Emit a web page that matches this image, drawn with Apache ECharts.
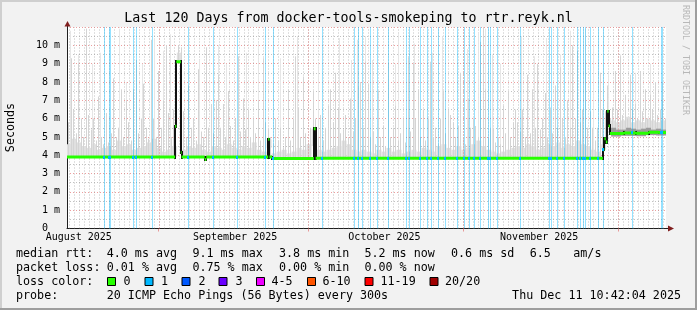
<!DOCTYPE html>
<html><head><meta charset="utf-8">
<script src="https://cdn.jsdelivr.net/npm/echarts@6/dist/echarts.min.js"></script>
<style>html,body{margin:0;padding:0;background:#f2f2f2}#c{width:697px;height:310px}</style>
</head><body><div id="c"></div>
<script>
// ---------- data ----------
const titleText = 'Last 120 Days from docker-tools-smokeping to rtr.reyk.nl';
const monthLabels = ['August 2025', 'September 2025', 'October 2025', 'November 2025'];
const monthLabelDays = [2.36, 33.67, 63.6, 94.6];           // days since chart start
const majorGridDays = [18.36, 48.36, 79.36, 110.36];
const minorGridFirst = 0.36;                                 // daily grid phase
const yMax = 11;

// median rtt (ms) as step line: value holds from day until next day
const medianDays = [0, 21.65, 21.9, 22.8, 22.95, 27.6, 27.9, 40.3, 40.55, 41.1, 49.45, 49.8,
  107.35, 107.65, 107.95, 108.25, 108.5, 108.75, 111.5, 114, 116.5, 118.5, 120];
const medianVals = [3.90, 5.58, 9.10, 4.15, 3.90, 3.76, 3.90, 4.87, 3.90, 3.82, 5.45, 3.83,
  4.30, 4.90, 4.72, 6.40, 5.60, 5.18, 5.22, 5.20, 5.26, 5.24, 5.24];

// smoke: highest visible ping per half day (ms)
const smokeStep = 0.5;
const smokeMax = [
  5.8, 9.3, 6.5, 5.2, 9.0, 6.0, 5.0, 10.9, 6.2, 5.4,
  6.0, 4.8, 7.2, 5.0, 4.6, 6.3, 4.7, 5.2, 8.2, 5.0,
  5.5, 7.6, 5.0, 7.0, 5.8, 4.8, 7.6, 9.2, 5.2, 6.0,
  7.9, 5.5, 4.9, 10.3, 6.0, 5.0, 8.6, 5.5, 7.0, 10.0,
  6.3, 5.0, 6.5, 5.8, 10.0, 9.9, 6.4, 5.0, 7.8, 5.5,
  6.0, 4.8, 8.7, 5.3, 5.0, 9.9, 5.5, 6.8, 5.2, 7.0,
  8.4, 5.5, 6.8, 5.0, 7.5, 5.6, 4.8, 6.0, 9.4, 5.3,
  7.1, 5.4, 6.5, 5.0, 6.0, 5.2, 7.0, 4.8, 9.3, 5.8,
  5.5, 5.0, 4.6, 6.0, 4.8, 5.5, 4.4, 5.0, 7.6, 4.8,
  6.0, 9.4, 6.6, 5.0, 8.3, 5.2, 4.7, 5.5, 7.5, 6.0,
  5.0, 6.2, 4.8, 5.5, 6.7, 7.6, 5.8, 8.5, 6.6, 5.2,
  5.4, 6.2, 5.0, 7.1, 5.3, 6.0, 7.8, 8.0, 5.5, 9.1,
  7.9, 5.0, 5.3, 4.6, 7.5, 5.0, 5.6, 4.5, 9.0, 5.0,
  5.5, 6.7, 4.8, 5.2, 6.0, 4.7, 9.4, 5.3, 9.0, 6.0,
  7.6, 5.0, 6.5, 4.8, 6.0, 9.1, 5.0, 5.5, 4.6, 6.0,
  7.5, 5.2, 6.5, 6.2, 5.8, 5.0, 5.6, 8.5, 5.0, 4.6,
  7.1, 5.5, 6.0, 5.6, 5.0, 10.2, 11.0, 7.6, 5.0, 5.5,
  5.5, 4.7, 5.0, 4.6, 6.7, 5.2, 7.5, 5.0, 5.8, 6.5,
  5.8, 5.3, 6.5, 5.0, 8.4, 5.2, 7.6, 5.5, 9.0, 5.4,
  6.0, 7.4, 5.0, 6.6, 5.2, 7.8, 5.5, 8.8, 6.0, 5.0,
  7.0, 5.5, 10.0, 6.0, 9.7, 5.8, 6.5, 9.2, 5.5, 6.4,
  5.5, 4.8, 5.5, 8.5, 6.5, 6.4, 7.8, 6.0, 6.6, 8.6,
  6.5, 9.4, 6.2, 7.3, 6.0, 8.4, 6.5, 6.8, 6.0, 8.6,
  6.4, 7.6, 6.0, 7.3, 6.5, 8.0, 6.2, 6.5, 7.0, 6.0
];
// dense smoke body per day (ms)
const bodyMax = [
  4.6, 4.9, 4.7, 4.5, 4.4, 4.6, 4.3, 4.4, 4.5, 4.3,
  4.8, 4.5, 4.6, 4.3, 4.4, 4.5, 4.7, 4.9, 4.4, 4.2,
  4.3, 4.5, 9.6, 4.3, 4.5, 4.4, 4.6, 4.3, 4.2, 4.5,
  4.4, 4.3, 4.6, 4.4, 4.3, 4.5, 4.4, 4.7, 4.3, 4.2,
  4.4, 4.1, 4.2, 4.3, 4.1, 4.2, 4.4, 4.3, 4.6, 4.5,
  4.3, 4.2, 4.3, 4.4, 4.5, 4.8, 4.6, 4.3, 4.2, 4.3,
  4.2, 4.1, 4.3, 4.2, 4.4, 4.2, 4.3, 4.1, 4.2, 4.3,
  4.2, 4.4, 4.3, 4.2, 4.5, 4.6, 4.4, 4.3, 4.5, 4.3,
  4.4, 4.6, 4.8, 4.5, 4.3, 4.2, 4.1, 4.2, 4.3, 4.4,
  4.5, 4.4, 4.6, 4.5, 4.3, 4.4, 4.6, 4.5, 4.7, 4.4,
  4.6, 4.5, 4.8, 4.6, 4.5, 4.3, 4.2, 4.6, 6.0, 5.9,
  5.8, 5.9, 6.1, 5.8, 5.9, 5.8, 6.0, 5.9, 5.8, 5.9
];
// faint single-ping outliers
const faintDays = [0.66, 2.26, 3.87, 5.07, 6.67, 10.48, 11.88, 15.09, 17.49, 19.3, 20.7, 26.5, 30.3, 31.9,
  35.9, 38.3, 42.7, 46.0, 50.35, 54.4, 56.8, 58.0, 59.6, 61.2, 65.8, 66.4, 69.6, 73.2, 75.2, 80.2,
  82.4, 83.8, 85.2, 86.8, 91.0, 93.65, 96.05, 98.85, 100.85, 103.85, 105.45, 108.45, 110.85, 113.85,
  116.85, 119.25];
const faintMax = [10.8, 9.5, 10.9, 9.0, 9.6, 10.9, 8.0, 9.0, 10.4, 9.7, 10.6, 9.2, 10.0, 9.0,
  9.6, 10.1, 9.3, 10.5, 9.0, 10.4, 9.2, 10.3, 10.5, 9.2, 9.0, 10.6, 10.1, 9.6, 10.5, 9.8,
  10.7, 10.9, 9.5, 9.0, 10.5, 9.4, 10.4, 9.5, 10.8, 10.9, 10.0, 8.5, 9.5, 8.5,
  9.0, 8.0];
// darker core of smoke after the route change
const darkDays = [108, 109, 110, 111, 112, 113, 114, 115, 116, 117, 118, 119];
const darkMax = [5.45, 5.5, 5.4, 5.4, 5.5, 5.45, 5.4, 5.45, 5.5, 5.4, 5.45, 5.4];
// samples with 1/20 packet loss
const lossDays = [7.33, 8.34, 8.68, 13.29, 13.89, 17.03, 24.31, 29.32, 34.07, 39.6, 41.28, 51.1,
  57.58, 58.38, 59.04, 60.78, 62.08, 64.29, 68.0, 68.6, 70.7, 72.2, 73.0, 74.4, 75.8, 78.16,
  79.48, 80.62, 81.48, 82.77, 84.43, 84.83, 86.17, 90.84, 96.65, 96.95, 98.2, 99.52, 102.26,
  102.86, 103.47, 103.87, 104.87, 106.47, 107.41, 113.09, 118.9, 119.24];

const rttTexts = ['median rtt:', '4.0 ms avg', '9.1 ms max', '3.8 ms min', '5.2 ms now', '0.6 ms sd', '6.5', 'am/s'];
const lossTexts = ['packet loss:', '0.01 % avg', '0.75 % max', '0.00 % min', '0.00 % now'];
const lossLabels = ['0', '1', '2', '3', '4-5', '6-10', '11-19', '20/20'];
const lossColors = ['#26ff00', '#00b8ff', '#0059ff', '#6a00ff', '#ee00ff', '#ff5500', '#ff0000', '#a00000'];
const probeTexts = ['probe:', '20 ICMP Echo Pings (56 Bytes) every 300s', 'Thu Dec 11 10:42:04 2025'];

// ---------- layout ----------
const FONT = '"DejaVu Sans Mono", monospace';
const C_GRID = 'rgba(143,143,143,0.55)';
const C_MGRID = 'rgba(222,79,79,0.55)';
const C_AXIS = '#1f1f1f';
const C_ARROW = '#801f1f';
const rttX = [16, 106.7, 192.4, 279, 364.4, 451, 529.8, 573.3];
const lossX = [16, 106.7, 192.4, 279, 364.4];
const boxX = [107.5, 145, 182, 219, 256.5, 307.5, 365, 430];
const boxLabelX = [123.5, 161, 198.5, 235.5, 271.5, 322.5, 380.5, 445];

function medianAt(d) {
  let v = medianVals[0];
  for (let i = 0; i < medianDays.length; i++) { if (medianDays[i] <= d) v = medianVals[i]; else break; }
  return v;
}
const dailyGrid = [];
for (let d = minorGridFirst; d < 120; d += 1) dailyGrid.push([d, 0]);

function vline(color, dash) {
  return function (params, api) {
    const a = api.coord([api.value(0), 0]), b = api.coord([api.value(0), yMax]);
    const x = Math.round(a[0]) + 0.5;
    return { type: 'line', shape: { x1: x, y1: a[1], x2: x, y2: b[1] }, style: { stroke: color, lineWidth: 1, lineDash: dash } };
  };
}

const chart = echarts.init(document.getElementById('c'), null, { renderer: 'canvas' });
const graphics = [];
// frame
graphics.push({ type: 'rect', shape: { x: 0, y: 0, width: 697, height: 2 }, style: { fill: '#cfcfcf' } });
graphics.push({ type: 'rect', shape: { x: 0, y: 0, width: 2, height: 310 }, style: { fill: '#cfcfcf' } });
graphics.push({ type: 'rect', shape: { x: 0, y: 308, width: 697, height: 2 }, style: { fill: '#9e9e9e' } });
graphics.push({ type: 'rect', shape: { x: 695, y: 0, width: 2, height: 310 }, style: { fill: '#9e9e9e' } });
// title
graphics.push({ type: 'text', x: 348.5, y: 18.5, style: { text: titleText, font: '13.3px ' + FONT, fill: '#000', align: 'center', verticalAlign: 'middle' } });
// watermark
graphics.push({ type: 'text', x: 685, y: 60, rotation: -Math.PI / 2, style: { text: 'RRDTOOL / TOBI OETIKER', font: '8.3px ' + FONT, fill: '#b8b8b8', align: 'center', verticalAlign: 'middle' } });
// y name
graphics.push({ type: 'text', x: 11, y: 127.5, rotation: Math.PI / 2, style: { text: 'Seconds', font: '11.7px ' + FONT, fill: '#000', align: 'center', verticalAlign: 'middle' } });
// arrows
graphics.push({ type: 'line', shape: { x1: 67.5, y1: 27, x2: 67.5, y2: 24 }, style: { stroke: C_AXIS, lineWidth: 1 }, z: 50 });
graphics.push({ type: 'polygon', shape: { points: [[64.5, 26.5], [70.5, 26.5], [67.5, 21]] }, style: { fill: C_ARROW }, z: 50 });
graphics.push({ type: 'line', shape: { x1: 666, y1: 228.5, x2: 669, y2: 228.5 }, style: { stroke: C_AXIS, lineWidth: 1 }, z: 50 });
graphics.push({ type: 'polygon', shape: { points: [[668, 225.5], [668, 231.5], [674, 228.5]] }, style: { fill: C_ARROW }, z: 50 });
// legend
const txt = (t, x, y, align) => ({ type: 'text', x: x, y: y, style: { text: t, font: '11.7px ' + FONT, fill: '#000', align: align || 'left', verticalAlign: 'middle' } });
rttTexts.forEach((t, i) => graphics.push(txt(t, rttX[i], 254)));
lossTexts.forEach((t, i) => graphics.push(txt(t, lossX[i], 268.3)));
graphics.push(txt('loss color:', 16, 282.3));
lossLabels.forEach((t, i) => {
  graphics.push({ type: 'rect', shape: { x: boxX[i], y: 277.5, width: 8, height: 8 }, style: { fill: lossColors[i], stroke: '#000', lineWidth: 1 } });
  graphics.push(txt(t, boxLabelX[i], 282.3));
});
graphics.push(txt(probeTexts[0], 16, 296));
graphics.push(txt(probeTexts[1], 106.7, 296));
graphics.push(txt(probeTexts[2], 681, 296, 'right'));

// horizontal median pieces separated by gaps, and vertical joins [day, fromValue, toValue]
const medianPieces = [];
medianVals.slice(0, -1).forEach((v, i) => {
  medianPieces.push([medianDays[i], v], [medianDays[i + 1], v], [medianDays[i + 1], '-']);
});
const medianJoins = medianVals.slice(1, -1).map((v, i) => [medianDays[i + 1], medianVals[i], v]);

chart.setOption({
  animation: false,
  backgroundColor: '#f2f2f2',
  grid: { left: 67, right: 31, top: 27, bottom: 81.5, show: true, backgroundColor: '#ffffff', borderWidth: 0 },
  xAxis: {
    type: 'value', min: 0, max: 120,
    axisLine: { show: true, lineStyle: { color: C_AXIS, width: 1 } },
    axisTick: { show: true, customValues: majorGridDays, length: 3, lineStyle: { color: C_MGRID } },
    axisLabel: {
      customValues: monthLabelDays, margin: 4, fontSize: 10, fontFamily: FONT, color: '#000',
      formatter: v => { const i = monthLabelDays.indexOf(v); return i >= 0 ? monthLabels[i] : ''; }
    },
    splitLine: { show: false }
  },
  yAxis: {
    type: 'value', min: 0, max: yMax, interval: 1,
    axisLine: { show: true, lineStyle: { color: C_AXIS, width: 1 } },
    axisTick: { show: false },
    axisLabel: {
      margin: 7, fontSize: 10, fontFamily: FONT, color: '#000',
      formatter: v => v === yMax ? '' : (v === 0 ? '0  ' : v + ' m')
    },
    splitLine: { show: true, lineStyle: { color: C_MGRID, type: [1, 2], width: 1 } },
    minorTick: { show: false, splitNumber: 2 },
    minorSplitLine: { show: true, lineStyle: { color: C_GRID, type: [1, 2], width: 1 } }
  },
  graphic: graphics,
  series: [
    { type: 'custom', name: 'dailygrid', silent: true, z: 1, renderItem: vline(C_GRID, [1, 2]), data: dailyGrid },
    { type: 'custom', name: 'faint', silent: true, z: 2,
      renderItem: (p, api) => {
        const top = api.coord([api.value(0), api.value(1)]), bot = api.coord([api.value(0), medianAt(api.value(0))]);
        return { type: 'rect', shape: { x: Math.round(top[0]), y: top[1], width: 1, height: bot[1] - top[1] }, style: { fill: '#e6e6e6' } };
      },
      data: faintDays.map((d, i) => [d, faintMax[i]]) },
    { type: 'custom', name: 'body', silent: true, z: 3,
      renderItem: (p, api) => {
        const d = api.value(0);
        const a = api.coord([d, api.value(1)]), b = api.coord([d + 1, medianAt(d + 0.5)]);
        return { type: 'rect', shape: { x: a[0], y: a[1], width: b[0] - a[0], height: b[1] - a[1] }, style: { fill: '#e0e0e0' } };
      },
      data: bodyMax.map((v, i) => [i, v]) },
    { type: 'custom', name: 'smoke', silent: true, z: 4,
      renderItem: (p, api) => {
        const d = api.value(0);
        const top = api.coord([d, api.value(1)]), bot = api.coord([d, medianAt(d)]);
        return { type: 'rect', shape: { x: Math.round(top[0]), y: top[1], width: 1, height: bot[1] - top[1] }, style: { fill: '#d4d4d4' } };
      },
      data: smokeMax.map((v, i) => [i * smokeStep + smokeStep / 2, v]) },
    { type: 'custom', name: 'dark', silent: true, z: 5,
      renderItem: (p, api) => {
        const a = api.coord([api.value(0), api.value(1)]), b = api.coord([api.value(0) + 1, medianAt(api.value(0) + 0.5)]);
        return { type: 'rect', shape: { x: a[0], y: a[1], width: b[0] - a[0], height: b[1] - a[1] + 3 }, style: { fill: '#9c9c9c' } };
      },
      data: darkDays.map((d, i) => [d, darkMax[i]]) },
    { type: 'custom', name: 'loss', silent: true, z: 6,
      renderItem: (p, api) => {
        const a = api.coord([api.value(0), yMax]), b = api.coord([api.value(0), 0]);
        return { type: 'rect', shape: { x: Math.round(a[0]), y: a[1], width: 1, height: b[1] - a[1] }, style: { fill: 'rgba(0,184,255,0.42)' } };
      },
      data: lossDays.map(d => [d, 0]) },
    { type: 'custom', name: 'monthgrid', silent: true, z: 7, renderItem: vline(C_MGRID, [1, 2]), data: majorGridDays.map(d => [d, 0]) },
    { type: 'custom', name: 'medianJoins', silent: true, z: 8,
      renderItem: (p, api) => {
        const d = api.value(0);
        const a = api.coord([d, api.value(1)]), b = api.coord([d, api.value(2)]);
        const x = Math.round(a[0]);
        const y0 = Math.min(a[1], b[1]), y1 = Math.max(a[1], b[1]);
        return { type: 'rect', shape: { x: x - 1, y: Math.floor(y0) - 1, width: 2, height: Math.ceil(y1) - Math.floor(y0) + 2 }, style: { fill: '#111' } };
      },
      data: medianJoins },
    { type: 'line', name: 'medianGreen', z: 9, silent: true, showSymbol: false, symbol: 'none',
      connectNulls: false, lineStyle: { color: lossColors[0], width: 3, cap: 'butt' },
      data: medianPieces },
    { type: 'custom', name: 'medianLoss', silent: true, z: 10,
      renderItem: (p, api) => {
        const a = api.coord([api.value(0), medianAt(api.value(0))]);
        return { type: 'rect', shape: { x: Math.round(a[0]) - 1, y: Math.floor(a[1]) - 1, width: 2, height: 3 }, style: { fill: lossColors[1] } };
      },
      data: lossDays.map(d => [d, 0]) }
  ]
});
</script></body></html>
